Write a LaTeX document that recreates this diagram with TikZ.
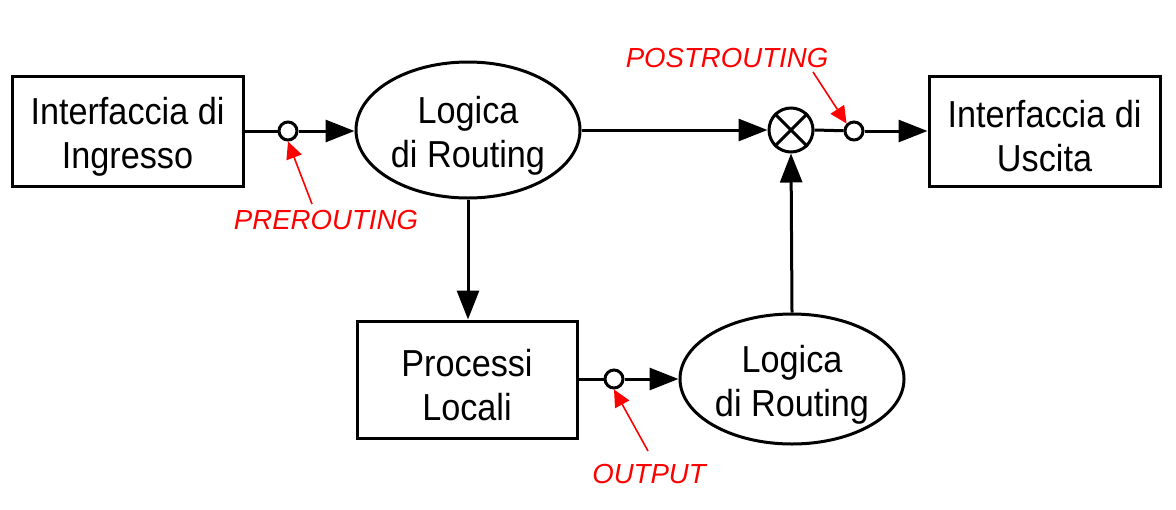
\documentclass[tikz,border=0pt]{standalone}
\usepackage{fontspec}
\setmainfont{Liberation Sans}
\newfontfamily\narrowsans[FakeStretch=0.91]{Liberation Sans}
\newcommand\liftline{\rule{0pt}{19pt}}
\usetikzlibrary{shapes.geometric,arrows.meta}
\begin{document}
\begin{tikzpicture}[x=0.5pt,y=-0.5pt,
  txt/.style={align=center,font=\narrowsans\fontsize{18.8}{22}\selectfont},
  box/.style={draw,line width=1.5pt,minimum width=115.5pt,minimum height=55pt,inner sep=0pt,txt},
  ell/.style={draw,ellipse,line width=1.5pt,minimum width=112pt,minimum height=68pt,inner sep=0pt,txt},
  hook/.style={draw,circle,line width=1.5pt,minimum size=9pt,inner sep=0pt,fill=white},
  flow/.style={line width=1.5pt,-{Triangle[length=14.5pt,width=11pt]}},
  plain/.style={line width=1.5pt},
  lab/.style={text=red,font=\fontsize{13.8}{16}\selectfont\itshape,inner sep=0pt},
  ptr/.style={draw=red,line width=0.8pt,-{Triangle[length=8.5pt,width=8pt]}}]
\useasboundingbox (0,0) rectangle (1176,509);
\node[box] (in) at (127.5,131) {\liftline Interfaccia di\\Ingresso};
\node[hook] (pre) at (288,131) {};
\node[ell] (r1) at (468,130) {\liftline Logica\\di Routing};
\node[draw,circle,line width=1.5pt,minimum size=22pt,inner sep=0pt] (x) at (791,130) {};
\draw[line width=1.5pt] (x.north west) -- (x.south east) (x.north east) -- (x.south west);
\node[hook] (post) at (854,131) {};
\node[box] (out) at (1044.5,131) {\liftline Interfaccia di\\Uscita};
\node[box,minimum width=110pt,minimum height=58.5pt] (loc) at (467,379.5) {\liftline Processi\\Locali};
\node[hook] (outp) at (614,379) {};
\node[ell,minimum height=65pt] (r2) at (792,379) {\liftline Logica\\di Routing};

\draw[plain] (in.east |- pre) -- (pre);
\draw[flow] (pre) -- (pre -| r1.west);
\draw[flow] (r1.east) -- (x.west);
\draw[plain] (x.east) -- (post);
\draw[flow] (post) -- (out.west |- post);
\draw[flow] (r1.south) -- (r1.south |- loc.north);
\draw[plain] (loc.east |- outp) -- (outp);
\draw[flow] (outp) -- (r2.west);
\draw[flow] (r2.north) -- (x.south);

\node[lab] (lpre) at (326,220) {PREROUTING};
\node[lab] (lpost) at (727,58) {POSTROUTING};
\node[lab] (lout) at (649,474) {OUTPUT};
\coordinate (spre) at (312,204);
\coordinate (spost) at (813,72);
\coordinate (sout) at (648,451);
\draw[ptr] (spre) -- (pre.south);
\draw[ptr] (spost) -- (post.north west);
\draw[ptr] (sout) -- (outp.south);
\end{tikzpicture}
\end{document}
